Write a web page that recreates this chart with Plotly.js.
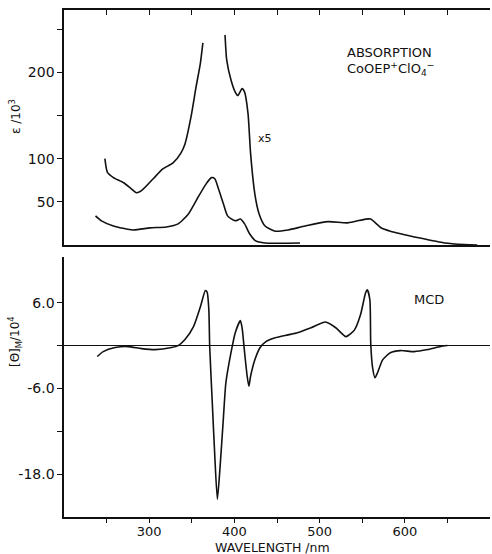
<!DOCTYPE html>
<html>
<head>
<meta charset="utf-8">
<script src="https://cdn.plot.ly/plotly-3.0.1.min.js"></script>
<style>html,body{margin:0;padding:0;background:#fff;}#plot{width:492px;height:554px;}</style>
</head>
<body>
<div id="plot"></div>
<script>
// Absorption x5 curve (epsilon/10^3 as plotted), left and right branches
var absX5Wl = [248,251,258,270,279,285,291,305,316,328,337,342,349,355,360,363, null,
  389,391,396,401,404,409,412,416,419,424,429,436,448,463,483,510,533,554,560,572,583,618,647,670,685];
var absX5Val = [100,84,78,72,65,60.5,63,77,88,95,106,117,148,183,210,234, null,
  243,214,191,177,173,181,177,152,106,59,36,22,16,17.4,22,27,25.6,30,30,20,16,8,2.3,0.5,0];
// Absorption (unscaled)
var absWl = [237,244,258,281,301,320,334,346,357,367,373,377,381,387,392,401,407,412,418,425,436,477];
var absVal = [33.7,27.9,22,17.4,19.8,20.9,24.4,36,54.7,71,78,76.7,66,48,33.7,28,30,24.4,12.8,4.7,2.3,2.3];
// MCD [theta]_M / 10^4
var mcdWl = [239,246,260,275,291,307,326,334,342,352,360,366,368,370,371,374,377,380,383,387,390,396,401,407,409,412,415,417,419,424,430,437,448,463,474,490,507,519,531,541,548,554,556,559,560,562,565,568,574,583,595,611,627,642,650];
var mcdVal = [-1.53,-0.84,-0.28,-0.14,-0.42,-0.56,-0.28,0,0.84,2.65,5.4,7.7,7.5,5.0,-0.14,-7.9,-15.5,-21.5,-17.3,-10.3,-5.2,-1.0,1.8,3.5,2.5,-1.0,-4.3,-5.7,-4.3,-2.0,-0.3,0.56,1.1,1.5,1.8,2.5,3.3,2.5,1.26,2.2,4.3,7.4,7.8,6.4,0.4,-2.9,-4.5,-3.8,-2.0,-1.0,-0.7,-0.84,-0.56,-0.14,0];

var xTicks = [250,300,350,400,450,500,550,600,650];
var xLabelVals = [300,400,500,600];
var xLabels = ['300','400','500','600'];
var xMinor = [250,350,450,550,650];
var absLabelVals = [50,100,200];
var absLabels = ['50','100','200'];
var absMinor = [150,250];
var mcdLabelVals = [6,-6,-18];
var mcdLabels = ['6.0','-6.0','-18.0'];
var mcdMinor = [0,-12];

var FONT = 'DejaVu Sans, sans-serif';
var line = {color:'#111', width:1.6, shape:'spline', smoothing:0.6};

var traces = [
  {x:absX5Wl, y:absX5Val, xaxis:'x', yaxis:'y', mode:'lines', line:line, connectgaps:false, hoverinfo:'skip'},
  {x:absWl, y:absVal, xaxis:'x', yaxis:'y', mode:'lines', line:line, hoverinfo:'skip'},
  {x:mcdWl, y:mcdVal, xaxis:'x2', yaxis:'y2', mode:'lines', line:line, hoverinfo:'skip'}
];

var layout = {
  width:492, height:554,
  margin:{l:64, r:2, t:10, b:37},
  paper_bgcolor:'#fff', plot_bgcolor:'#fff',
  showlegend:false,
  font:{family:FONT, size:14, color:'#111'},
  xaxis:{anchor:'y', domain:[0,1], range:[200,700], side:'top', showline:true, mirror:true,
    linecolor:'#111', linewidth:1.6, ticks:'inside', ticklen:5, tickcolor:'#111',
    tickmode:'array', tickvals:xTicks, showticklabels:false, showgrid:false, zeroline:false},
  yaxis:{anchor:'x', domain:[0.5365,1], range:[0,272], showline:true, linecolor:'#111', linewidth:1.6,
    ticks:'outside', ticklen:5, tickcolor:'#111', tickmode:'array', tickvals:absLabelVals, ticktext:absLabels,
    minor:{tickmode:'array', tickvals:absMinor, ticks:'outside', ticklen:5, tickcolor:'#111'},
    showgrid:false, zeroline:false, tickfont:{size:14}},
  xaxis2:{anchor:'y2', domain:[0,1], range:[200,700], showline:true, linecolor:'#111', linewidth:1.6,
    ticks:'outside', ticklen:4, tickcolor:'#111', tickmode:'array', tickvals:xLabelVals, ticktext:xLabels,
    minor:{tickmode:'array', tickvals:xMinor, ticks:'outside', ticklen:4, tickcolor:'#111'},
    ticklabelstandoff:-2,
    showgrid:false, zeroline:false, tickfont:{size:13}},
  yaxis2:{anchor:'x2', domain:[0,0.5128], range:[-24,12.4], showline:true, linecolor:'#111', linewidth:1.6,
    ticks:'outside', ticklen:5, tickcolor:'#111', tickmode:'array', tickvals:mcdLabelVals, ticktext:mcdLabels,
    minor:{tickmode:'array', tickvals:mcdMinor, ticks:'outside', ticklen:5, tickcolor:'#111'},
    showgrid:false, zeroline:true, zerolinecolor:'#111', zerolinewidth:1, tickfont:{size:14}},
  annotations:[
    {xref:'paper', yref:'paper', x:-0.115, y:(554-37-117)/507, text:'ε /10<sup>3</sup>', textangle:-90,
      showarrow:false, font:{size:12}, xanchor:'center', yanchor:'middle'},
    {xref:'paper', yref:'paper', x:-0.115, y:(554-37-342)/507, text:'[Θ]<sub>M</sub>/10<sup>4</sup>', textangle:-90,
      showarrow:false, font:{size:12}, xanchor:'center', yanchor:'middle'},
    {xref:'paper', yref:'paper', x:(272-64)/426, y:(554-37-547)/507, text:'WAVELENGTH /nm', showarrow:false,
      xanchor:'center', yanchor:'middle', font:{size:12.5}},
    {xref:'x', yref:'y', x:530, y:223, text:'ABSORPTION', showarrow:false, xanchor:'left', yanchor:'middle', font:{size:13}},
    {xref:'x', yref:'y', x:530, y:204, text:'CoOEP<sup>+</sup>ClO<sub>4</sub><sup>−</sup>', showarrow:false, xanchor:'left', yanchor:'middle', font:{size:13}},
    {xref:'x', yref:'y', x:425, y:123, text:'x5', showarrow:false, xanchor:'left', yanchor:'middle', font:{size:11}},
    {xref:'x2', yref:'y2', x:628, y:6.4, text:'MCD', showarrow:false, xanchor:'center', yanchor:'middle', font:{size:13}}
  ]
};

Plotly.newPlot('plot', traces, layout, {displayModeBar:false, staticPlot:true});
</script>
</body>
</html>
